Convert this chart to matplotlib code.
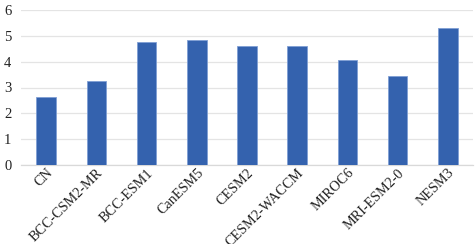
import matplotlib.pyplot as plt

# model names and values
models = ['CN', 'BCC-CSM2-MR', 'BCC-ESM1', 'CanESM5', 'CESM2',
          'CESM2-WACCM', 'MIROC6', 'MRI-ESM2-0', 'NESM3']
values = [2.62, 3.24, 4.77, 4.85, 4.62, 4.62, 4.08, 3.45, 5.32]
yticks = [0, 1, 2, 3, 4, 5, 6]

plt.rcParams['font.family'] = ['Liberation Serif', 'DejaVu Serif']

fig = plt.figure(figsize=(4.77, 2.44), dpi=100)
ax = fig.add_axes([21 / 477, 1 - 165 / 244, 452 / 477, 155 / 244])

x = list(range(len(models)))
ax.bar(x, values, width=0.39, color='#3462ae', edgecolor='#7f9fd4',
       linewidth=0.6, zorder=3)

ax.set_xlim(-0.5, len(models) - 0.5)
ax.set_ylim(0, 6)
ax.set_yticks(yticks)
ax.yaxis.grid(True, color='#e4e4e4', linewidth=0.9, zorder=0)

for side in ['top', 'right', 'left']:
    ax.spines[side].set_visible(False)
ax.spines['bottom'].set_color('#d9d9d9')
ax.spines['bottom'].set_linewidth(0.9)

ax.set_xticks(x)
ax.set_xticklabels(models, rotation=45, ha='right', rotation_mode='anchor',
                   fontsize=10.2, color='#222222')
ax.tick_params(axis='x', length=0, pad=1)
ax.tick_params(axis='y', length=0, pad=7, labelsize=10.5, labelcolor='#222222')

plt.savefig('out.png', dpi=100)
